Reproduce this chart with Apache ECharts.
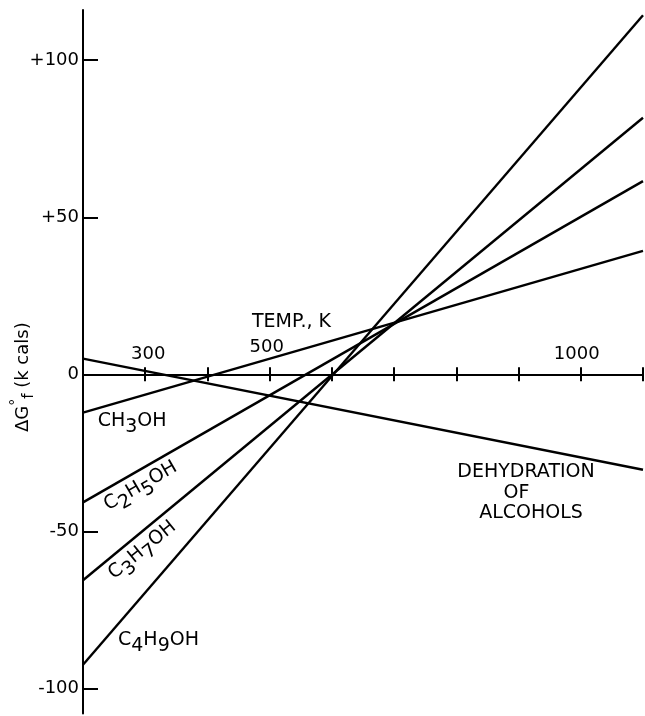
<!DOCTYPE html>
<html>
<head>
<meta charset="utf-8">
<script src="https://cdn.jsdelivr.net/npm/echarts@6/dist/echarts.min.js"></script>
<style>
  html, body { margin: 0; padding: 0; background: #ffffff; }
  #chart { width: 645px; height: 716px; }
</style>
</head>
<body>
<div id="chart"></div>
<script>
// Temperature (K) at the two ends of each straight line
const temps = [200, 1100];

// Standard free energy of formation, kcal, at those temperatures
const ch3oh = [-12.2, 39.3];
const c2h5oh = [-40.8, 61.5];
const c3h7oh = [-65.6, 81.7];
const c4h9oh = [-92.5, 114.3];
const dehydration = [5.0, -30.4];

// Axis ticks and tick labels
const tempTicks = [300, 400, 500, 600, 700, 800, 900, 1000, 1100];
const tempLabels = [300, 500, 1000];
const dgTicks = [-100, -50, 0, 50, 100];
const dgLabels = ['-100', '-50', '0', '+50', '+100'];

// Curve captions
const captions = ['CH{s|3}OH', 'C{s|2}H{s|5}OH', 'C{s|3}H{s|7}OH', 'C{s|4}H{s|9}OH',
                  'TEMP., K', 'DEHYDRATION', 'OF', 'ALCOHOLS'];

const FONT = 'DejaVu Sans';
const INK = '#000000';
const T_MIN = 200, T_MAX = 1100;
const DG_MIN = -108, DG_MAX = 116;

// plot frame
const W = 645, H = 716;
const PLOT = { left: 83, right: 2, top: 10, bottom: 2.6 };
const plotH = H - PLOT.top - PLOT.bottom;
// pixel row of ΔG = 0; the upper band grid ends there so its axis rides on the zero line
const zeroY = PLOT.top + (DG_MAX / (DG_MAX - DG_MIN)) * plotH;

function pairs(values) {
  return temps.map((t, i) => [t, values[i]]);
}

function lineSeries(name, values) {
  return {
    name: name,
    type: 'line',
    xAxisIndex: 0,
    yAxisIndex: 0,
    data: pairs(values),
    symbol: 'none',
    silent: true,
    lineStyle: { color: INK, width: 2.4 },
    z: 3
  };
}

// Where each caption sits, in (temperature, kcal) units, and its tilt
const captionSpots = [
  { at: [279, -14.9], rotate: 0 },
  { at: [292.7, -35.6], rotate: 30 },
  { at: [295.3, -56.0], rotate: 39 },
  { at: [321.3, -84.5], rotate: 0 },
  { at: [535, 16.6], rotate: 0 },
  { at: [912, -31.1], rotate: 0 },
  { at: [896.7, -37.8], rotate: 0 },
  { at: [920, -44.2], rotate: 0 }
];

const captionData = captions.map((text, i) => ({
  value: captionSpots[i].at,
  label: {
    show: true,
    position: 'inside',
    rotate: captionSpots[i].rotate,
    formatter: text
  }
}));

const tempLabelRich = {
  a: { color: INK, fontFamily: FONT, fontSize: 18, padding: [0, 0, 0, 6] },
  b: { color: INK, fontFamily: FONT, fontSize: 18, padding: [0, 6, 7, 0] },
  c: { color: INK, fontFamily: FONT, fontSize: 18, padding: [0, 8, 0, 0] }
};

const tickStyle = { color: INK, width: 2 };

const chart = echarts.init(document.getElementById('chart'), null, { renderer: 'canvas' });

chart.setOption({
  backgroundColor: '#ffffff',
  animation: false,
  textStyle: { fontFamily: FONT, color: INK },
  grid: [
    { left: PLOT.left, right: PLOT.right, top: PLOT.top, bottom: PLOT.bottom,
      containLabel: false, outerBoundsMode: 'none' },
    { left: PLOT.left, right: PLOT.right, top: PLOT.top, bottom: H - zeroY,
      containLabel: false, outerBoundsMode: 'none' }
  ],
  xAxis: [
    {
      // temperature axis on the zero line, with the lower half of each tick
      gridIndex: 0,
      type: 'value',
      position: 'bottom',
      min: T_MIN,
      max: T_MAX,
      axisLine: { show: true, onZero: true, lineStyle: tickStyle },
      axisTick: { show: true, inside: false, length: 7, customValues: tempTicks, lineStyle: tickStyle },
      axisLabel: { show: false },
      splitLine: { show: false }
    },
    {
      // upper half of each tick and the temperature labels above the line
      gridIndex: 1,
      type: 'value',
      position: 'bottom',
      min: T_MIN,
      max: T_MAX,
      axisLine: { show: false, onZero: false },
      axisTick: { show: true, inside: true, length: 7, customValues: tempTicks, lineStyle: tickStyle },
      axisLabel: {
        show: true,
        inside: true,
        margin: 11,
        customValues: tempLabels,
        hideOverlap: false,
        fontFamily: FONT,
        fontSize: 18,
        color: INK,
        formatter: function (v) {
          if (v === 300) return '{a|300}';
          if (v === 500) return '{b|500}';
          return '{c|' + v + '}';
        },
        rich: tempLabelRich
      },
      splitLine: { show: false }
    }
  ],
  yAxis: [
    {
      gridIndex: 0,
      type: 'value',
      position: 'left',
      min: DG_MIN,
      max: DG_MAX,
      name: 'ΔG{sup|°}{sub|f} (k cals)',
      nameLocation: 'middle',
      nameRotate: 90,
      nameGap: 46,
      nameMoveOverlap: false,
      nameTextStyle: {
        fontFamily: FONT,
        fontSize: 18,
        lineHeight: 28,
        color: INK,
        padding: [0, 31, 0, 0],
        rich: {
          sup: { fontFamily: FONT, fontSize: 14, lineHeight: 14, verticalAlign: 'top', color: INK },
          sub: { fontFamily: FONT, fontSize: 15, lineHeight: 15, verticalAlign: 'bottom', color: INK }
        }
      },
      axisLine: { show: true, onZero: false, lineStyle: tickStyle },
      axisTick: { show: true, inside: true, length: 15, customValues: dgTicks, lineStyle: tickStyle },
      axisLabel: {
        show: true,
        margin: 4,
        customValues: dgTicks,
        fontFamily: FONT,
        fontSize: 18,
        color: INK,
        formatter: function (v) { return dgLabels[dgTicks.indexOf(v)]; }
      },
      splitLine: { show: false }
    },
    {
      // companion scale for the upper band grid (not drawn)
      gridIndex: 1,
      type: 'value',
      min: 0,
      max: DG_MAX,
      show: false
    }
  ],
  series: [
    lineSeries('CH3OH', ch3oh),
    lineSeries('C2H5OH', c2h5oh),
    lineSeries('C3H7OH', c3h7oh),
    lineSeries('C4H9OH', c4h9oh),
    lineSeries('Dehydration of alcohols', dehydration),
    {
      name: 'captions',
      type: 'scatter',
      xAxisIndex: 0,
      yAxisIndex: 0,
      symbolSize: 0,
      silent: true,
      itemStyle: { color: INK, opacity: 1 },
      label: {
        show: true,
        opacity: 1,
        fontFamily: FONT,
        fontSize: 19,
        lineHeight: 32,
        color: INK,
        rich: {
          s: { fontFamily: FONT, fontSize: 19, lineHeight: 19, verticalAlign: 'bottom', color: INK }
        }
      },
      data: captionData,
      z: 5
    }
  ]
});
</script>
</body>
</html>
